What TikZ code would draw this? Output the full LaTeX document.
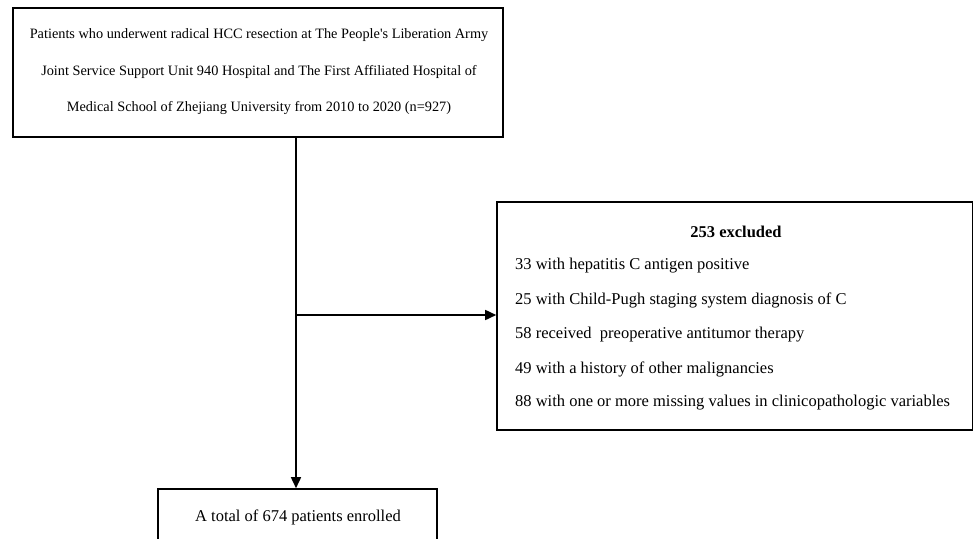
\documentclass[tikz,border=0pt]{standalone}
\usepackage{fontspec}
\setmainfont{Liberation Serif}
\usetikzlibrary{arrows.meta}
\tikzset{
  box/.style={draw=black, line width=1.6pt, inner sep=0pt},
  txt/.style={font=\fontsize{16.5}{19}\selectfont, inner sep=0pt},
  conn/.style={line width=1.6pt},
  arr/.style={conn, -{Triangle[length=11pt,width=10pt]}}
}
\begin{document}
\begin{tikzpicture}[x=1pt,y=1pt]
\useasboundingbox (0,0) rectangle (973,-538);
\clip (0,0) rectangle (973,-538);
% top box
\node[box, minimum width=490pt, minimum height=129pt] (top) at (258,-72.5) {};
\node[inner sep=0pt, align=center, font=\fontsize{14.3}{36.5}\selectfont] (toptext) at (259,-72) {Patients who underwent radical HCC resection at The People\textquotesingle s Liberation Army\\Joint Service Support Unit 940 Hospital and The First Affiliated Hospital of\\Medical School of Zhejiang University from 2010 to 2020 (n=927)};
% excluded box
\node[box, minimum width=476pt, minimum height=228pt] (excl) at (735,-316) {};
\node[txt, font=\fontsize{16.5}{19}\selectfont\bfseries] (ex0) at (736,-232) {253 excluded};
\node[txt, anchor=west] (ex1) at (515,-266) {33 with hepatitis C antigen positive};
\node[txt, anchor=west] (ex2) at (515,-300) {25 with Child-Pugh staging system diagnosis of C};
\node[txt, anchor=west] (ex3) at (515,-335) {58 received\ \ preoperative antitumor therapy};
\node[txt, anchor=west] (ex4) at (515,-369) {49 with a history of other malignancies};
\node[txt, anchor=west] (ex5) at (515,-403) {88 with one or more missing values in clinicopathologic variables};
% bottom box
\node[box, minimum width=279pt, minimum height=56pt] (bot) at (297.5,-517) {};
\node[txt] (bottext) at (298,-517) {A total of 674 patients enrolled};
% connectors
\coordinate (j) at (296,-315);
\draw[arr] (top.south -| j) -- (bot.north -| j);
\draw[arr] (j) -- (excl.west |- j);
\end{tikzpicture}
\end{document}
